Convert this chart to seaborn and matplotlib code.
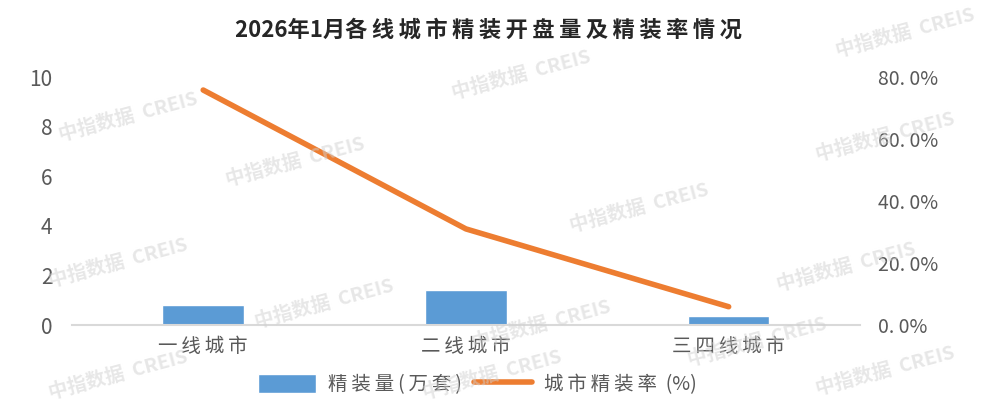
import matplotlib
matplotlib.use('Agg')
from matplotlib import pyplot as plt
from matplotlib.ticker import FuncFormatter
import numpy as np
import pandas as pd
import seaborn as sns

# data
cities = ["一线城市", "二线城市", "三四线城市"]
volume = [0.82, 1.42, 0.38]        # 精装量(万套)
rate = [75.8, 31.0, 5.9]           # 城市精装率(%)
left_ticks = [0, 2, 4, 6, 8, 10]
right_ticks = [0, 20, 40, 60, 80]

sns.set_theme(style="white")
plt.rcParams['font.family'] = ['Noto Sans CJK SC', 'DejaVu Sans']

BLUE = "#5b9bd5"
ORANGE = "#ed7d31"
GREY = "#595959"
TS = "\u2009"  # thin space, the reference text is loosely spaced


def spaced(s):
    return TS.join(s)


df = pd.DataFrame({"city": [spaced(c) for c in cities], "volume": volume, "rate": rate})

fig = plt.figure(figsize=(9.84, 4.17), dpi=100)
ax = fig.add_axes([0.073, 0.2206, 0.801, 0.5947])

sns.barplot(data=df, x="city", y="volume", color=BLUE, width=0.31,
            saturation=1, ax=ax, label=spaced("精装量(万套)"))
ax.set_xlim(-0.5, 2.5)
ax.set_ylim(0, 10)
ax.set_yticks(left_ticks)
ax.set_xlabel("")
ax.set_ylabel("")
ax.tick_params(axis='y', labelsize=15, colors=GREY, length=0, pad=14)
ax.tick_params(axis='x', labelsize=14, colors=GREY, length=0, pad=8)
for s in ["top", "left", "right"]:
    ax.spines[s].set_visible(False)
ax.spines["bottom"].set_color("#d9d9d9")
ax.spines["bottom"].set_linewidth(1.5)

ax2 = ax.twinx()
sns.lineplot(data=df, x="city", y="rate", color=ORANGE, linewidth=4,
             ax=ax2, label=spaced("城市精装率") + "  (%)", legend=False)
ax2.set_ylim(0, 80)
ax2.set_yticks(right_ticks)
ax2.yaxis.set_major_formatter(FuncFormatter(lambda v, p: f"{v:.1f}%".replace(".", ". ")))
ax2.set_ylabel("")
ax2.tick_params(axis='y', labelsize=14, colors=GREY, length=0, pad=13)
for s in ["top", "left", "right", "bottom"]:
    ax2.spines[s].set_visible(False)

fig.suptitle("2026年1月" + spaced("各线城市精装开盘量及精装率情况"), x=0.496, y=0.955,
             fontsize=16, fontweight='bold', color="#262626")

h1, l1 = ax.get_legend_handles_labels()
h2, l2 = ax2.get_legend_handles_labels()
if ax.get_legend():
    ax.get_legend().remove()
fig.legend(h1 + h2, l1 + l2, loc="center", bbox_to_anchor=(0.485, 0.077),
           ncol=2, frameon=False, fontsize=14, handlelength=3.0, handleheight=1.1,
           columnspacing=0.6, handletextpad=0.6, labelcolor=GREY)

# watermarks
marks = [(0.53, 0.82), (0.13, 0.72), (0.30, 0.61), (0.90, 0.67),
         (0.65, 0.50), (0.12, 0.37), (0.33, 0.27), (0.55, 0.22), (0.86, 0.36),
         (0.77, 0.18), (0.12, 0.10), (0.50, 0.10), (0.90, 0.11), (0.92, 0.92)]
for x, y in marks:
    fig.text(x, y, "中指数据  CREIS", fontsize=14, fontweight='bold',
             color="#d0d0d0", alpha=0.5, rotation=15, ha='center', va='center',
             zorder=10)

fig.savefig("out.png", dpi=100)
